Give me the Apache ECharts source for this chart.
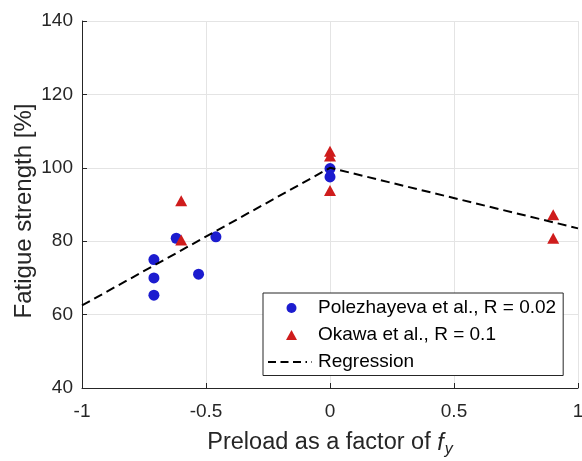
<!DOCTYPE html>
<html>
<head>
<meta charset="utf-8">
<script src="https://cdn.jsdelivr.net/npm/echarts@6/dist/echarts.min.js"></script>
<style>
html,body{margin:0;padding:0;background:#fff;}
#chart{width:582px;height:461px;}
</style>
</head>
<body>
<div id="chart"></div>
<script>
// Data
var polezhayevaX = [-0.71, -0.71, -0.71, -0.62, -0.53, -0.46, 0, 0];
var polezhayevaY = [75, 70, 65.3, 80.8, 71, 81.2, 99.8, 97.5];
var okawaX = [-0.6, -0.6, 0, 0, 0, 0.9, 0.9];
var okawaY = [91, 80.3, 104.5, 103.2, 93.8, 87.2, 80.8];
var regressionX = [-1, 0, 1];
var regressionY = [62.5, 100, 83.5];
var xTicks = [-1, -0.5, 0, 0.5, 1];
var yTicks = [40, 60, 80, 100, 120, 140];
var seriesNames = ['Polezhayeva et al., R = 0.02', 'Okawa et al., R = 0.1', 'Regression'];

function zip(a, b) { return a.map(function (v, i) { return [v, b[i]]; }); }

var FONT = "'Liberation Sans', Arial, Helvetica, sans-serif";
var TXT = '#262626';
var BLUE = '#1c1ccf';
var RED = '#cf1c1c';

// legend icons (46 x 11 box; leading moves fix the bounding box)
var ICON_BOX = 'M0 0 M46 11 ';
var iconCircle = 'path://' + ICON_BOX + 'M19.5 5.5 A5 5 0 1 0 29.5 5.5 A5 5 0 1 0 19.5 5.5 Z';
var iconTriangle = 'path://' + ICON_BOX + 'M19 10.5 L24.5 0.5 L30 10.5 Z';
var iconDash = 'path://' + ICON_BOX + 'M1 4.5 L9 4.5 L9 6.5 L1 6.5 Z M13.5 4.5 L21.5 4.5 L21.5 6.5 L13.5 6.5 Z M26 4.5 L34 4.5 L34 6.5 L26 6.5 Z M38.5 4.5 L40 4.5 L40 6.5 L38.5 6.5 Z M44 5 L45 5 L45 6 L44 6 Z';

var chart = echarts.init(document.getElementById('chart'), null, {renderer: 'canvas'});
chart.setOption({
  animation: false,
  backgroundColor: '#ffffff',
  textStyle: {fontFamily: FONT},
  grid: {left: 82, right: 4, top: 21, bottom: 73, containLabel: false, outerBoundsMode: 'none'},
  xAxis: {
    type: 'value',
    min: xTicks[0], max: xTicks[xTicks.length - 1], interval: 0.5,
    axisLine: {show: true, onZero: false, lineStyle: {color: TXT, width: 1}},
    axisTick: {show: true, inside: true, length: 5, lineStyle: {color: TXT}},
    axisLabel: {color: TXT, fontSize: 19, margin: 14, fontFamily: FONT,
      formatter: function (v) { return String(v); }},
    splitLine: {show: true, lineStyle: {color: '#e4e4e4', width: 1}},
    name: '{m|Preload as a factor of }{i|f}{s|y}',
    nameLocation: 'middle', nameGap: 40, nameMoveOverlap: false,
    nameTextStyle: {color: TXT, fontSize: 23.5, fontFamily: FONT,
      rich: {
        m: {fontSize: 23.5, color: TXT, fontFamily: FONT},
        i: {fontSize: 23.5, fontStyle: 'italic', color: TXT, fontFamily: FONT},
        s: {fontSize: 16, fontStyle: 'italic', color: TXT, fontFamily: FONT, padding: [14, 0, 0, 1]}
      }}
  },
  yAxis: {
    type: 'value',
    min: yTicks[0], max: yTicks[yTicks.length - 1], interval: 20,
    axisLine: {show: true, onZero: false, lineStyle: {color: TXT, width: 1}},
    axisTick: {show: true, inside: true, length: 5, lineStyle: {color: TXT}},
    axisLabel: {color: TXT, fontSize: 19, margin: 9, fontFamily: FONT},
    splitLine: {show: true, lineStyle: {color: '#e4e4e4', width: 1}},
    name: 'Fatigue strength [%]',
    nameLocation: 'middle', nameGap: 46, nameRotate: 90, nameMoveOverlap: false,
    nameTextStyle: {color: TXT, fontSize: 24, fontFamily: FONT, padding: [0, 13, 0, 0]}
  },
  legend: {
    orient: 'vertical',
    left: 263, top: 293,
    backgroundColor: '#ffffff',
    borderColor: TXT, borderWidth: 1,
    padding: [5.5, 7, 4, 4],
    itemGap: 8,
    itemWidth: 46, itemHeight: 11,
    textStyle: {color: '#000', fontSize: 19, fontFamily: FONT},
    data: [
      {name: seriesNames[0], icon: iconCircle},
      {name: seriesNames[1], icon: iconTriangle},
      {name: seriesNames[2], icon: iconDash}
    ]
  },
  series: [
    {
      name: seriesNames[0], type: 'scatter', symbol: 'circle', symbolSize: 11,
      itemStyle: {color: BLUE, opacity: 1},
      data: zip(polezhayevaX, polezhayevaY), z: 2
    },
    {
      name: seriesNames[1], type: 'scatter', symbol: 'triangle', symbolSize: [12, 11],
      itemStyle: {color: RED, opacity: 1},
      data: zip(okawaX, okawaY), z: 2
    },
    {
      name: seriesNames[2], type: 'line', symbol: 'none', showSymbol: false,
      lineStyle: {color: '#000', width: 2, type: [9, 5]},
      itemStyle: {color: '#000'},
      data: zip(regressionX, regressionY), z: 3
    }
  ]
});
</script>
</body>
</html>
